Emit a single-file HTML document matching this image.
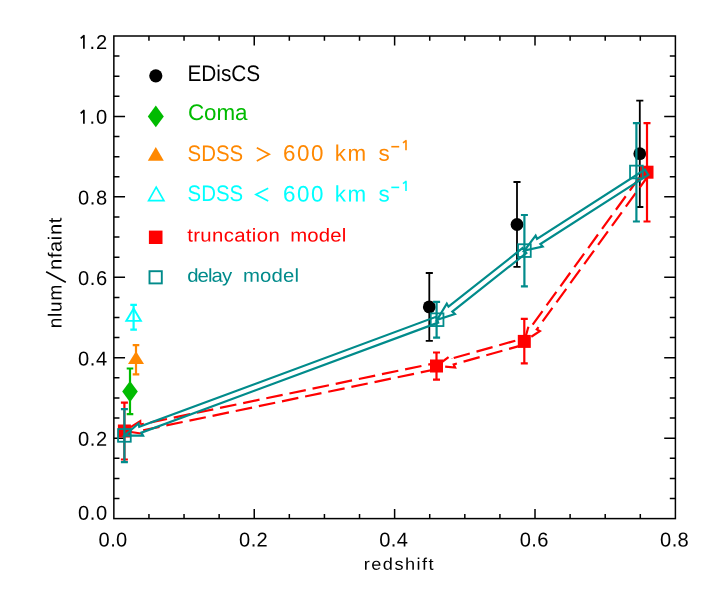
<!DOCTYPE html>
<html><head><meta charset="utf-8"><title>chart</title>
<style>html,body{margin:0;padding:0;background:#fff;}body{width:709px;height:591px;overflow:hidden;position:relative;font-family:"Liberation Sans",sans-serif;}</style></head>
<body>
<svg width="709" height="591" viewBox="0 0 709 591" style="display:block;position:absolute;left:0;top:0;will-change:transform;opacity:0.999">
<rect x="0" y="0" width="709" height="591" fill="#fff"/>
<g stroke="#000" stroke-width="1.5" fill="none" stroke-linecap="butt">
<rect x="113.85" y="36.0" width="561.55" height="482.60"/>
<path d="M148.95 518.6v-4.7M148.95 36.0v4.7M184.04 518.6v-4.7M184.04 36.0v4.7M219.14 518.6v-4.7M219.14 36.0v4.7M254.24 518.6v-9.6M254.24 36.0v9.6M289.33 518.6v-4.7M289.33 36.0v4.7M324.43 518.6v-4.7M324.43 36.0v4.7M359.53 518.6v-4.7M359.53 36.0v4.7M394.62 518.6v-9.6M394.62 36.0v9.6M429.72 518.6v-4.7M429.72 36.0v4.7M464.82 518.6v-4.7M464.82 36.0v4.7M499.92 518.6v-4.7M499.92 36.0v4.7M535.01 518.6v-9.6M535.01 36.0v9.6M570.11 518.6v-4.7M570.11 36.0v4.7M605.21 518.6v-4.7M605.21 36.0v4.7M640.30 518.6v-4.7M640.30 36.0v4.7M113.85 498.49h5.6M675.4 498.49h-5.6M113.85 478.38h5.6M675.4 478.38h-5.6M113.85 458.27h5.6M675.4 458.27h-5.6M113.85 438.17h11.2M675.4 438.17h-11.2M113.85 418.06h5.6M675.4 418.06h-5.6M113.85 397.95h5.6M675.4 397.95h-5.6M113.85 377.84h5.6M675.4 377.84h-5.6M113.85 357.73h11.2M675.4 357.73h-11.2M113.85 337.62h5.6M675.4 337.62h-5.6M113.85 317.52h5.6M675.4 317.52h-5.6M113.85 297.41h5.6M675.4 297.41h-5.6M113.85 277.30h11.2M675.4 277.30h-11.2M113.85 257.19h5.6M675.4 257.19h-5.6M113.85 237.08h5.6M675.4 237.08h-5.6M113.85 216.98h5.6M675.4 216.98h-5.6M113.85 196.87h11.2M675.4 196.87h-11.2M113.85 176.76h5.6M675.4 176.76h-5.6M113.85 156.65h5.6M675.4 156.65h-5.6M113.85 136.54h5.6M675.4 136.54h-5.6M113.85 116.43h11.2M675.4 116.43h-11.2M113.85 96.32h5.6M675.4 96.32h-5.6M113.85 76.22h5.6M675.4 76.22h-5.6M113.85 56.11h5.6M675.4 56.11h-5.6"/>
</g>
<path d="M130.00 368.50V414.20M126.70 368.50h6.6M126.70 414.20h6.6" stroke="#00BB00" stroke-width="2.2" fill="none"/>
<path d="M130 381.0L137.8 391.6L130 402.2L122.2 391.6Z" fill="#00BB00"/>
<path d="M136.00 345.20V374.30M132.70 345.20h6.6M132.70 374.30h6.6" stroke="#FF8800" stroke-width="2.2" fill="none"/>
<path d="M136 351.2L144.0 363.9H128.0Z" fill="#FF8800"/>
<path d="M133.60 304.90V329.60M130.30 304.90h6.6M130.30 329.60h6.6" stroke="#00FFFF" stroke-width="2.2" fill="none"/>
<path d="M133.6 308.6L140.9 320.9H126.3Z" fill="none" stroke="#00FFFF" stroke-width="1.9" stroke-linejoin="miter"/>
<path d="M429.30 340.80V273.00M425.75 340.80h7.1M425.75 273.00h7.1" stroke="#000" stroke-width="1.8" fill="none"/>
<circle cx="429.3" cy="306.9" r="6.4" fill="#000"/>
<path d="M517.00 266.90V182.00M513.45 266.90h7.1M513.45 182.00h7.1" stroke="#000" stroke-width="1.8" fill="none"/>
<circle cx="517.0" cy="224.5" r="6.4" fill="#000"/>
<path d="M639.80 207.00V100.70M636.25 207.00h7.1M636.25 100.70h7.1" stroke="#000" stroke-width="1.8" fill="none"/>
<circle cx="639.8" cy="153.7" r="6.4" fill="#000"/>
<path d="M124.40 459.50V402.60M120.90 459.50h7.0M120.90 402.60h7.0" stroke="#FF0000" stroke-width="2.2" fill="none"/>
<rect x="117.90" y="424.50" width="13.0" height="13.0" fill="#FF0000"/>
<path d="M436.50 379.60V352.50M433.00 379.60h7.0M433.00 352.50h7.0" stroke="#FF0000" stroke-width="2.2" fill="none"/>
<rect x="430.00" y="359.50" width="13.0" height="13.0" fill="#FF0000"/>
<path d="M524.30 363.40V318.90M520.80 363.40h7.0M520.80 318.90h7.0" stroke="#FF0000" stroke-width="2.2" fill="none"/>
<rect x="517.80" y="334.90" width="13.0" height="13.0" fill="#FF0000"/>
<path d="M647.00 221.50V123.20M643.50 221.50h7.0M643.50 123.20h7.0" stroke="#FF0000" stroke-width="2.2" fill="none"/>
<rect x="640.50" y="165.70" width="13.0" height="13.0" fill="#FF0000"/>
<path d="M649.51 174.02L536.79 329.46L539.84 331.05L524.30 341.40L529.31 323.42L531.77 325.82" stroke="#FF0000" stroke-width="2.2" fill="none" stroke-linejoin="miter" stroke-dasharray="16.7 6.93"/><path d="M531.77 325.82L644.49 170.38L649.51 174.02" stroke="#FF0000" stroke-width="2.2" fill="none" stroke-linejoin="miter" stroke-dasharray="16.7 6.93" stroke-dashoffset="234.72"/>
<path d="M525.14 344.39L453.71 364.40L455.10 367.54L436.50 366.00L451.60 355.02L452.03 358.43" stroke="#FF0000" stroke-width="2.2" fill="none" stroke-linejoin="miter" stroke-dasharray="16.7 6.93"/><path d="M452.03 358.43L523.46 338.41L525.14 344.39" stroke="#FF0000" stroke-width="2.2" fill="none" stroke-linejoin="miter" stroke-dasharray="16.7 6.93" stroke-dashoffset="116.39"/>
<path d="M437.13 369.03L141.67 430.57L142.86 433.80L124.40 431.00L140.21 421.07L140.41 424.50" stroke="#FF0000" stroke-width="2.2" fill="none" stroke-linejoin="miter" stroke-dasharray="16.7 6.93"/><path d="M140.41 424.50L435.87 362.97L437.13 369.03" stroke="#FF0000" stroke-width="2.2" fill="none" stroke-linejoin="miter" stroke-dasharray="16.7 6.93" stroke-dashoffset="344.01"/>
<path d="M124.40 462.10V409.20M120.90 462.10h7.0M120.90 409.20h7.0" stroke="#008B8B" stroke-width="2.2" fill="none"/>
<rect x="118.05" y="429.05" width="12.7" height="12.7" fill="none" stroke="#008B8B" stroke-width="1.8"/>
<path d="M436.60 337.70V301.90M433.10 337.70h7.0M433.10 301.90h7.0" stroke="#008B8B" stroke-width="2.2" fill="none"/>
<rect x="430.75" y="313.35" width="12.7" height="12.7" fill="none" stroke="#008B8B" stroke-width="1.8"/>
<path d="M524.40 286.30V215.00M520.90 286.30h7.0M520.90 215.00h7.0" stroke="#008B8B" stroke-width="2.2" fill="none"/>
<rect x="518.05" y="244.25" width="12.7" height="12.7" fill="none" stroke="#008B8B" stroke-width="1.8"/>
<path d="M636.40 221.50V123.20M632.90 221.50h7.0M632.90 123.20h7.0" stroke="#008B8B" stroke-width="2.2" fill="none"/>
<rect x="630.05" y="165.65" width="12.7" height="12.7" fill="none" stroke="#008B8B" stroke-width="1.8"/>
<path d="M648.27 174.81L540.38 244.03L542.64 246.62L524.40 250.60L535.62 235.68L537.03 238.81L644.93 169.59Z" stroke="#008B8B" stroke-width="2.2" fill="none" stroke-linejoin="miter"/>
<path d="M526.32 253.03L452.35 311.58L454.86 313.94L437.10 319.70L446.79 303.74L448.51 306.72L522.48 248.17Z" stroke="#008B8B" stroke-width="2.2" fill="none" stroke-linejoin="miter"/>
<path d="M438.18 322.61L141.42 432.69L143.07 435.71L124.40 435.70L138.55 423.52L139.26 426.88L436.02 316.79Z" stroke="#008B8B" stroke-width="2.2" fill="none" stroke-linejoin="miter"/>
<circle cx="155.8" cy="75.8" r="6.6" fill="#000"/>
<path d="M155.8 105.5L163.8 116.4L155.8 127.3L147.8 116.4Z" fill="#00BB00"/>
<path d="M155.8 147.1L163.8 160.8H147.8Z" fill="#FF8800"/>
<path d="M156.2 187.2L163.9 200.7H148.6Z" fill="none" stroke="#00FFFF" stroke-width="1.7"/>
<rect x="148.9" y="230.6" width="13.6" height="13.4" fill="#FF0000"/>
<rect x="149.5" y="271.2" width="12.3" height="12.2" fill="none" stroke="#008B8B" stroke-width="1.9"/>
<g font-family="'Liberation Sans', sans-serif">
<path d="M80.7 38.4L83.9 35.6V48.8" stroke="#000" stroke-width="1.7" fill="none" stroke-linejoin="round"/>
<text x="89.5" y="48.9" transform="rotate(0.03 89.5 48.9)" font-size="20.1" fill="#000" text-anchor="start">.</text>
<text x="96.0" y="48.9" transform="rotate(0.03 96.0 48.9)" font-size="20.1" fill="#000" text-anchor="start">2</text>
<path d="M80.7 113.3L83.9 110.5V123.7" stroke="#000" stroke-width="1.7" fill="none" stroke-linejoin="round"/>
<text x="89.5" y="123.8" transform="rotate(0.03 89.5 123.8)" font-size="20.1" fill="#000" text-anchor="start">.</text>
<text x="96.0" y="123.8" transform="rotate(0.03 96.0 123.8)" font-size="20.1" fill="#000" text-anchor="start">0</text>
<text x="77.9" y="204.6" transform="rotate(0.03 77.9 204.6)" font-size="20.1" fill="#000" text-anchor="start" textLength="29.2" lengthAdjust="spacing">0.8</text>
<text x="77.9" y="285.1" transform="rotate(0.03 77.9 285.1)" font-size="20.1" fill="#000" text-anchor="start" textLength="29.2" lengthAdjust="spacing">0.6</text>
<text x="77.9" y="365.4" transform="rotate(0.03 77.9 365.4)" font-size="20.1" fill="#000" text-anchor="start" textLength="29.2" lengthAdjust="spacing">0.4</text>
<text x="77.9" y="445.8" transform="rotate(0.03 77.9 445.8)" font-size="20.1" fill="#000" text-anchor="start" textLength="29.2" lengthAdjust="spacing">0.2</text>
<text x="77.9" y="519.8" transform="rotate(0.03 77.9 519.8)" font-size="20.1" fill="#000" text-anchor="start" textLength="29.2" lengthAdjust="spacing">0.0</text>
<text x="98.6" y="546.6" transform="rotate(0.03 98.6 546.6)" font-size="20.1" fill="#000" text-anchor="start" textLength="28.7" lengthAdjust="spacing">0.0</text>
<text x="239.1" y="546.6" transform="rotate(0.03 239.1 546.6)" font-size="20.1" fill="#000" text-anchor="start" textLength="28.7" lengthAdjust="spacing">0.2</text>
<text x="379.3" y="546.6" transform="rotate(0.03 379.3 546.6)" font-size="20.1" fill="#000" text-anchor="start" textLength="28.7" lengthAdjust="spacing">0.4</text>
<text x="519.7" y="546.6" transform="rotate(0.03 519.7 546.6)" font-size="20.1" fill="#000" text-anchor="start" textLength="28.7" lengthAdjust="spacing">0.6</text>
<text x="660.1" y="546.6" transform="rotate(0.03 660.1 546.6)" font-size="20.1" fill="#000" text-anchor="start" textLength="28.7" lengthAdjust="spacing">0.8</text>
<text transform="translate(363.8 569.8) rotate(0.03) scale(1.08 1)" font-size="16.8" textLength="64.6" lengthAdjust="spacing">redshift</text>
<text transform="translate(61.5 328.3) rotate(-89.97)" font-size="19" textLength="43.6" lengthAdjust="spacing">nlum</text>
<text transform="translate(61.5 269.9) rotate(-89.97) scale(1.06 1)" font-size="19" textLength="49.25" lengthAdjust="spacing">nfaint</text>
<path d="M46.1 271.7L65.8 282.2" stroke="#000" stroke-width="1.6" fill="none"/>
<text x="187.4" y="80.9" transform="rotate(0.03 187.4 80.9)" font-size="22.4" textLength="72.8" lengthAdjust="spacingAndGlyphs">EDisCS</text>
<text x="188.0" y="120.1" transform="rotate(0.03 188.0 120.1)" font-size="22.4" fill="#00BB00" text-anchor="start" textLength="59.5" lengthAdjust="spacing">Coma</text>
<text x="187.6" y="160.7" transform="rotate(0.03 187.6 160.7)" font-size="22.4" fill="#FF8800" textLength="55.5" lengthAdjust="spacingAndGlyphs">SDSS</text>
<text x="283.0" y="160.7" transform="rotate(0.03 283.0 160.7)" font-size="22.4" fill="#FF8800" text-anchor="start" textLength="40.5" lengthAdjust="spacing">600</text>
<text x="334.7" y="160.7" transform="rotate(0.03 334.7 160.7)" font-size="22.4" fill="#FF8800" text-anchor="start" textLength="31.5" lengthAdjust="spacing">km</text>
<text x="378.5" y="160.7" transform="rotate(0.03 378.5 160.7)" font-size="22.4" fill="#FF8800" text-anchor="start">s</text>
<path d="M391.3 146.7h7.9" stroke="#FF8800" stroke-width="1.6" fill="none"/>
<path d="M403.0 142.9L406.0 140.7V150.3" stroke="#FF8800" stroke-width="1.6" fill="none" stroke-linejoin="round"/>
<text x="187.6" y="201.4" transform="rotate(0.03 187.6 201.4)" font-size="22.4" fill="#00FFFF" textLength="55.5" lengthAdjust="spacingAndGlyphs">SDSS</text>
<text x="283.0" y="201.4" transform="rotate(0.03 283.0 201.4)" font-size="22.4" fill="#00FFFF" text-anchor="start" textLength="40.5" lengthAdjust="spacing">600</text>
<text x="334.7" y="201.4" transform="rotate(0.03 334.7 201.4)" font-size="22.4" fill="#00FFFF" text-anchor="start" textLength="31.5" lengthAdjust="spacing">km</text>
<text x="378.5" y="201.4" transform="rotate(0.03 378.5 201.4)" font-size="22.4" fill="#00FFFF" text-anchor="start">s</text>
<path d="M391.3 187.4h7.9" stroke="#00FFFF" stroke-width="1.6" fill="none"/>
<path d="M403.0 183.6L406.0 181.4V191.0" stroke="#00FFFF" stroke-width="1.6" fill="none" stroke-linejoin="round"/>
<text transform="translate(187.2 241.5) rotate(0.03) scale(1.1 1)" font-size="18.5" fill="#FF0000" textLength="84.09" lengthAdjust="spacing">truncation</text>
<text transform="translate(290.2 241.5) rotate(0.03) scale(1.1 1)" font-size="18.5" fill="#FF0000" textLength="50.91" lengthAdjust="spacing">model</text>
<text transform="translate(187.2 281.8) rotate(0.03) scale(1.1 1)" font-size="18.5" fill="#008B8B" textLength="40.91" lengthAdjust="spacing">delay</text>
<text transform="translate(243.0 281.8) rotate(0.03) scale(1.1 1)" font-size="18.5" fill="#008B8B" textLength="50.91" lengthAdjust="spacing">model</text>
<path d="M256.8 147.7L269.2 154.3L256.8 161.0" fill="none" stroke="#FF8800" stroke-width="1.7"/>
<path d="M268.2 188.3L255.9 194.5L268.2 201.0" fill="none" stroke="#00FFFF" stroke-width="1.7"/>
</g>
</svg>
</body></html>
